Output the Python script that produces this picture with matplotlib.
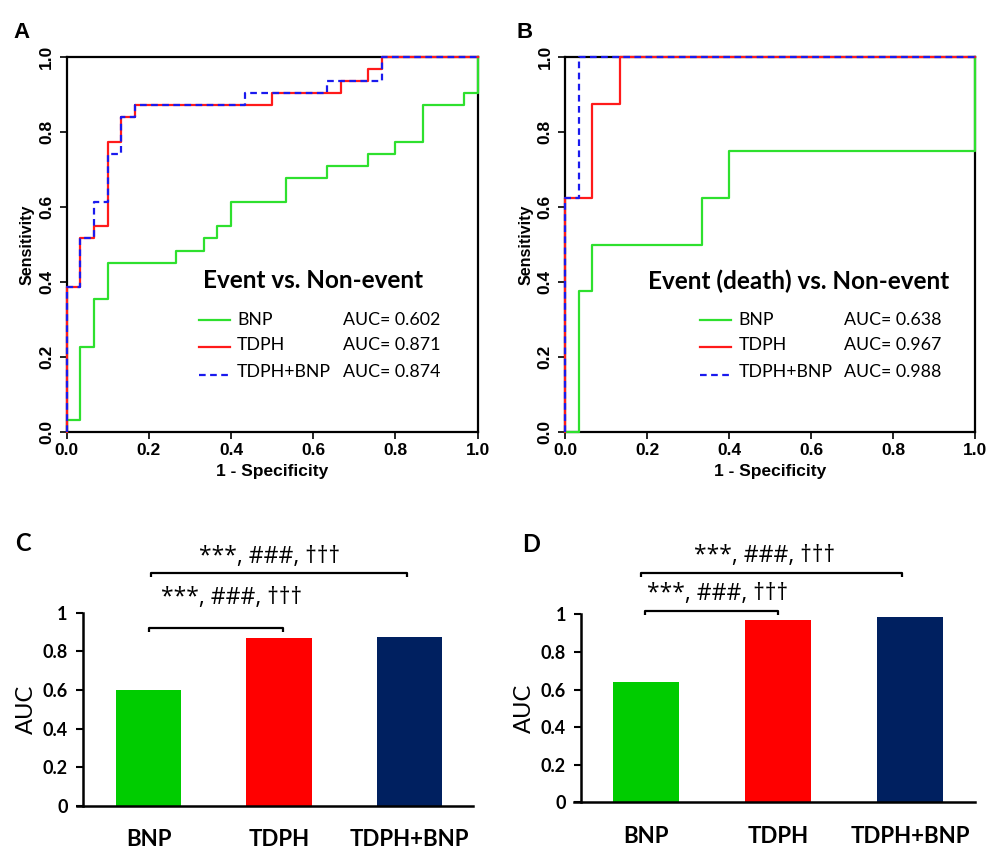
import matplotlib
matplotlib.use("Agg")
import matplotlib.pyplot as plt

# ---------------- data ----------------
# Panel A ROC (steps-post corner points: fpr, tpr)
a_bnp_fpr = [0, 0, 1/30, 2/30, 3/30, 8/30, 10/30, 11/30, 12/30, 16/30, 19/30, 22/30, 24/30, 26/30, 29/30, 1.0]
a_bnp_tpr = [0, 0.032, 0.226, 0.355, 0.452, 0.484, 0.516, 0.548, 0.613, 0.677, 0.710, 0.742, 0.774, 0.871, 0.903, 1.0]
a_tdph_fpr = [0, 0, 1/30, 2/30, 3/30, 4/30, 5/30, 15/30, 20/30, 22/30, 23/30, 1.0]
a_tdph_tpr = [0, 0.387, 0.516, 0.548, 0.774, 0.839, 0.871, 0.903, 0.935, 0.968, 1.0, 1.0]
a_comb_fpr = [0, 0, 1/30, 2/30, 3/30, 4/30, 5/30, 13/30, 19/30, 23/30, 1.0]
a_comb_tpr = [0, 0.387, 0.516, 0.613, 0.742, 0.839, 0.871, 0.903, 0.935, 1.0, 1.0]

# Panel B ROC
b_bnp_fpr = [0, 1/30, 2/30, 10/30, 12/30, 1.0]
b_bnp_tpr = [0, 0.375, 0.5, 0.625, 0.75, 1.0]
b_tdph_fpr = [0, 0, 2/30, 4/30, 1.0]
b_tdph_tpr = [0, 0.625, 0.875, 1.0, 1.0]
b_comb_fpr = [0, 0, 1/30, 1.0]
b_comb_tpr = [0, 0.625, 1.0, 1.0]

series_names = ["BNP", "TDPH", "TDPH+BNP"]
auc_A = [0.602, 0.871, 0.874]
auc_B = [0.638, 0.967, 0.988]
title_A = "Event vs. Non-event"
title_B = "Event (death) vs. Non-event"
sig_label = "***, ###, \u2020\u2020\u2020"

line_colors = ["#2ee02e", "#ff1a1a", "#1a1aee"]
line_styles = ["-", "-", "--"]
bar_colors = ["#00cc00", "#ff0000", "#002060"]

fig = plt.figure(figsize=(9.89, 8.5), dpi=100)

ARIAL = "Liberation Sans"
CAL = "Lato"


def roc_panel(rect, curves, aucs, title, title_x, legend_x):
    ax = fig.add_axes(rect)
    for (fx, ty), c, ls in zip(curves, line_colors, line_styles):
        ax.step(fx, ty, where="post", color=c, ls=ls, lw=1.6,
                dashes=(3, 2) if ls == "--" else (None, None), clip_on=False, zorder=3)
    ax.set_xlim(0, 1)
    ax.set_ylim(0, 1)
    ticks = [0, 0.2, 0.4, 0.6, 0.8, 1.0]
    ax.set_xticks(ticks)
    ax.set_yticks(ticks)
    ax.set_xticklabels([f"{t:.1f}" for t in ticks], fontfamily=ARIAL, fontweight="bold", fontsize=12.5)
    ax.set_yticklabels([f"{t:.1f}" for t in ticks], fontfamily=ARIAL, fontweight="bold", fontsize=12.5,
                       rotation=90, va="center")
    ax.tick_params(direction="out", length=5, width=1.2, pad=3)
    ax.tick_params(axis="y", pad=4)
    for s in ax.spines.values():
        s.set_linewidth(1.6)
    ax.set_xlabel("1 - Specificity", fontfamily=ARIAL, fontweight="bold", fontsize=12.5, labelpad=4)
    ax.set_ylabel("Sensitivity", fontfamily=ARIAL, fontweight="bold", fontsize=11.5, labelpad=3)
    ax.text(title_x, 0.403, title, fontfamily=CAL, fontweight="bold", fontsize=17.5,
            ha="left", va="center", transform=ax.transAxes)
    line_y = [0.299, 0.226, 0.152]
    text_y = [0.299, 0.233, 0.160]
    x0, x1 = legend_x
    for i, name in enumerate(series_names):
        ax.plot([x0, x1], [line_y[i], line_y[i]], color=line_colors[i], ls=line_styles[i], lw=1.6,
                dashes=(3, 2) if line_styles[i] == "--" else (None, None))
        ax.text(x1 + 0.018, text_y[i], name, fontfamily=CAL, fontsize=12.8, ha="left", va="center")
        ax.text(x1 + 0.276, text_y[i], f"AUC= {aucs[i]:.3f}", fontfamily=CAL, fontsize=12.8,
                ha="left", va="center")
    return ax


axA = roc_panel([0.0674, 0.4914, 0.4156, 0.4419],
                [(a_bnp_fpr, a_bnp_tpr), (a_tdph_fpr, a_tdph_tpr), (a_comb_fpr, a_comb_tpr)],
                auc_A, title_A, 0.3325, (0.322, 0.397))
axB = roc_panel([0.5713, 0.4914, 0.4146, 0.4419],
                [(b_bnp_fpr, b_bnp_tpr), (b_tdph_fpr, b_tdph_tpr), (b_comb_fpr, b_comb_tpr)],
                auc_B, title_B, 0.2016, (0.328, 0.405))


def bar_panel(rect, aucs, xlim, yspine, brackets, texts):
    ax = fig.add_axes(rect)
    xs = list(range(len(series_names)))
    ax.bar(xs, aucs, width=0.5, color=bar_colors, zorder=2)
    ax.set_xlim(*xlim)
    ax.set_ylim(0, 1)
    ax.spines["top"].set_visible(False)
    ax.spines["right"].set_visible(False)
    ax.spines["left"].set_position(("data", yspine))
    ax.spines["left"].set_bounds(0, 1)
    for s in ("left", "bottom"):
        ax.spines[s].set_linewidth(1.8)
    yt = [0, 0.2, 0.4, 0.6, 0.8, 1]
    ax.set_yticks(yt)
    ax.set_yticklabels(["0", "0.2", "0.4", "0.6", "0.8", "1"], fontfamily=CAL, fontweight="bold", fontsize=13)
    ax.tick_params(axis="y", direction="out", length=5, width=1.5, pad=6)
    ax.set_xticks(xs)
    ax.set_xticklabels(series_names, fontfamily=CAL, fontweight="bold", fontsize=16)
    ax.tick_params(axis="x", length=0, pad=17)
    ax.set_ylabel("AUC", fontfamily=CAL, fontsize=17, labelpad=4)
    for (xa, xb, yb) in brackets:
        ax.plot([xa, xa, xb, xb], [yb - 0.02, yb, yb, yb - 0.02], color="black", lw=1.6,
                clip_on=False, solid_capstyle="butt")
    for (tx, ty) in texts:
        ax.text(tx, ty, sig_label, fontfamily="Open Sans", fontsize=16.5, ha="center", va="center",
                clip_on=False)
    return ax


axC = bar_panel([0.0779, 0.0521, 0.4004, 0.227], auc_A, (-0.548, 2.487), -0.502,
                [(0.017, 1.98, 1.204), (0.006, 1.03, 0.922)],
                [(0.93, 1.29), (0.64, 1.075)])
axD = bar_panel([0.5807, 0.0561, 0.4052, 0.2212], auc_B, (-0.542, 2.49), -0.49,
                [(-0.04, 1.94, 1.221), (-0.008, 0.996, 1.018)],
                [(0.9, 1.31), (0.54, 1.11)])

# panel letters
fig.text(21 / 989, 1 - 32 / 850, "A", fontfamily=ARIAL, fontweight="bold", fontsize=16, ha="center", va="center")
fig.text(524.5 / 989, 1 - 32 / 850, "B", fontfamily=ARIAL, fontweight="bold", fontsize=16, ha="center", va="center")
fig.text(22.5 / 989, 1 - 543.5 / 850, "C", fontfamily=CAL, fontweight="bold", fontsize=17, ha="center", va="center")
fig.text(531 / 989, 1 - 544 / 850, "D", fontfamily=CAL, fontweight="bold", fontsize=17, ha="center", va="center")

fig.savefig("out.png", dpi=100)
